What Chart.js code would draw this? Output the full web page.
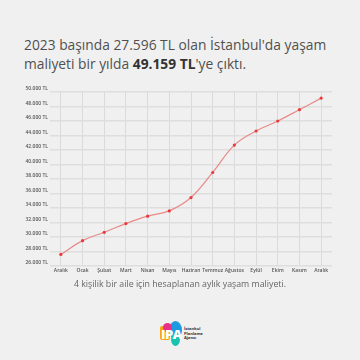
<!DOCTYPE html>
<html>
<head>
<meta charset="utf-8">
<script src="https://cdn.jsdelivr.net/npm/chart.js@4"></script>
<style>
  html, body { margin: 0; padding: 0; }
  body { width: 360px; height: 360px; background: #f0f0f0; position: relative; overflow: hidden; font-family: 'Open Sans', sans-serif; }
  .title { position: absolute; left: 24px; top: 35px; width: 330px; font-size: 13.8px; line-height: 19px; color: #505050; }
  .title b { color: #333; font-weight: 700; }
  .chart-box { position: absolute; left: 0; top: 0; width: 360px; height: 280px; }
  .subtitle { position: absolute; left: 0; top: 278px; width: 360px; text-align: center; font-size: 8.8px; color: #666; }
  .logo { position: absolute; left: 160px; top: 321px; width: 50px; height: 26px; }
  .blob { position: absolute; border-radius: 50%; }
  .logo-txt { position: absolute; left: 24px; top: 6px; font-size: 4px; line-height: 4.6px; color: #333; font-weight: 700; white-space: nowrap; }
  .logo-ipa { position: absolute; left: 1px; top: 4px; font-size: 13px; font-weight: 800; color: #fff; letter-spacing: -0.5px; }
</style>
</head>
<body>
<div class="title">2023 başında 27.596 TL olan İstanbul'da yaşam<br>maliyeti bir yılda <b>49.159 TL</b>'ye çıktı.</div>
<div class="chart-box"><canvas id="chart-cost"></canvas></div>
<div class="subtitle">4 kişilik bir aile için hesaplanan aylık yaşam maliyeti.</div>
<div class="logo">
  <div class="blob" style="left:9px;top:0px;width:13px;height:18px;background:#1e9be0"></div>
  <div class="blob" style="left:11px;top:12px;width:9px;height:13px;background:#18c3b0"></div>
  <div class="blob" style="left:0px;top:5px;width:10px;height:14px;border-radius:2px;background:#f7a21b"></div>
  <div class="blob" style="left:3px;top:2px;width:9px;height:9px;background:#e8308a"></div>
  <div class="logo-ipa">IPA</div>
  <div class="logo-txt">İstanbul<br>Planlama<br>Ajansı</div>
</div>
<script>
/* ==========================================
   İstanbul yaşam maliyeti — aylık çizgi grafik
   ========================================== */

const MONTHS = ['Aralık', 'Ocak', 'Şubat', 'Mart', 'Nisan', 'Mayıs', 'Haziran',
  'Temmuz', 'Ağustos', 'Eylül', 'Ekim', 'Kasım', 'Aralık'];
const LIVING_COST = [27596, 29500, 30650, 31850, 32870, 33600, 35440,
  38900, 42680, 44620, 46000, 47560, 49159];
const Y_MIN = 26000;
const Y_MAX = 50000;
const Y_STEP = 2000;

function formatTL(v) {
  return Number(v).toLocaleString('de-DE') + ' TL';
}

const canvas = document.getElementById('chart-cost');

new Chart(canvas, {
  type: 'line',
  data: {
    labels: MONTHS,
    datasets: [{
      data: LIVING_COST,
      borderColor: 'rgba(232, 120, 120, 0.85)',
      borderWidth: 1.2,
      tension: 0.4,
      pointRadius: 1.6,
      pointBackgroundColor: '#e83a3a',
      pointBorderColor: '#e83a3a',
      pointBorderWidth: 0,
      fill: false,
    }]
  },
  options: {
    responsive: true,
    maintainAspectRatio: false,
    animation: false,
    layout: { padding: { top: 92, right: 28, left: 0, bottom: 0 } },
    plugins: {
      legend: { display: false },
      tooltip: { enabled: false }
    },
    scales: {
      x: {
        offset: true,
        afterFit: s => { s.height = 14; },
        border: { display: false },
        grid: { color: '#dadada', lineWidth: 1, drawTicks: false, offset: false },
        ticks: {
          color: '#555',
          padding: 2,
          maxRotation: 0,
          autoSkip: false,
          font: { family: 'Open Sans', size: 5, weight: '600' }
        }
      },
      y: {
        min: Y_MIN,
        max: Y_MAX,
        afterFit: s => { s.width = 50; },
        border: { display: false },
        grid: { color: '#dedede', lineWidth: 1.5, drawTicks: false },
        ticks: {
          stepSize: Y_STEP,
          color: '#555',
          padding: 2,
          labelOffset: -3,
          font: { family: 'Open Sans', size: 5, weight: '600' },
          callback: v => formatTL(v)
        }
      }
    }
  }
});
</script>
</body>
</html>
